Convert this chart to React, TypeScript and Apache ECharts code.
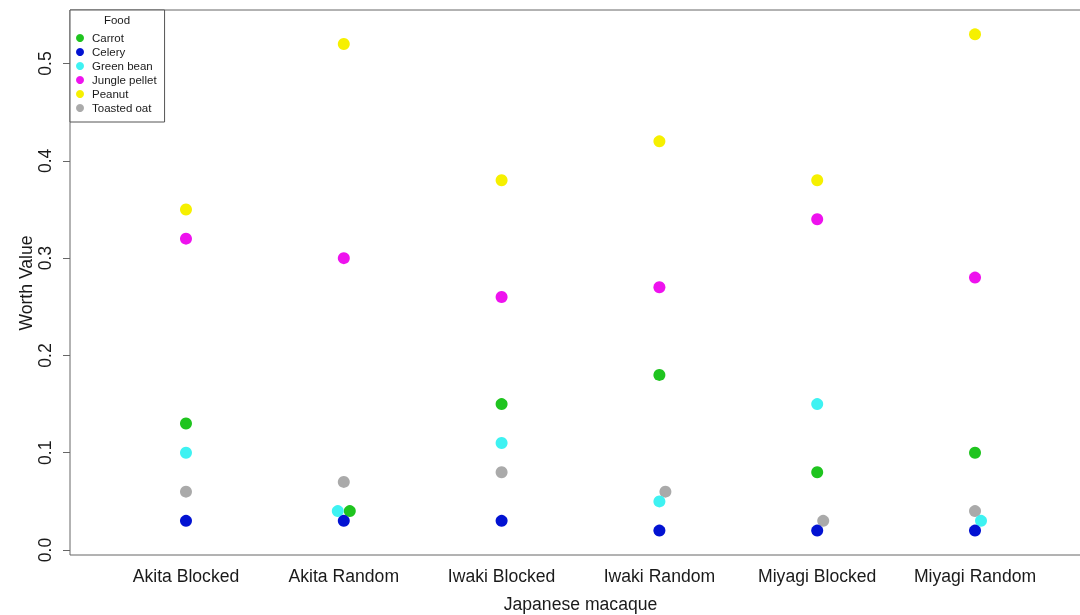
import React, { useEffect, useRef } from "react";
import * as echarts from "echarts";

const categories = ["Akita Blocked", "Akita Random", "Iwaki Blocked", "Iwaki Random", "Miyagi Blocked", "Miyagi Random"];
const foods = ["Carrot", "Celery", "Green bean", "Jungle pellet", "Peanut", "Toasted oat"];
const yTicks = [0, 0.1, 0.2, 0.3, 0.4, 0.5];

const carrot = [0.13, 0.04, 0.15, 0.18, 0.08, 0.10];
const celery = [0.03, 0.03, 0.03, 0.02, 0.02, 0.02];
const greenBean = [0.10, 0.04, 0.11, 0.05, 0.15, 0.03];
const junglePellet = [0.32, 0.30, 0.26, 0.27, 0.34, 0.28];
const peanut = [0.35, 0.52, 0.38, 0.42, 0.38, 0.53];
const toastedOat = [0.06, 0.07, 0.08, 0.06, 0.03, 0.04];

// horizontal jitter (pixels) applied to overlapping points
const carrotJitter = [0, 6, 0, 0, 0, 0];
const greenBeanJitter = [0, -6, 0, 0, 0, 6];
const toastedJitter = [0, 0, 0, 6, 6, 0];
const noJitter = [0, 0, 0, 0, 0, 0];

const colors: Record<string, string> = {
  "Carrot": "#1fc41f",
  "Celery": "#0212d2",
  "Green bean": "#3ef2f2",
  "Jungle pellet": "#ee12ee",
  "Peanut": "#f6f000",
  "Toasted oat": "#aaaaaa",
};

const FONT = "'Liberation Sans', Arial, Helvetica, sans-serif";
const BIG = 17.6;

export default function App() {
  const ref = useRef<HTMLDivElement>(null);
  useEffect(() => {
    if (!ref.current) return;
    const chart = echarts.init(ref.current, undefined, { renderer: "svg" });
    const mk = (name: string, vals: number[], jit: number[], z: number) => ({
      name,
      type: "scatter",
      symbol: "circle",
      symbolSize: 12,
      z,
      itemStyle: { color: colors[name], opacity: 1 },
      data: vals.map((v, i) => ({ value: [i + 1, v], symbolOffset: [jit[i], 0] })),
    });
    chart.setOption({
      animation: false,
      textStyle: { fontFamily: FONT },
      grid: {
        left: 70, top: 10, width: 1021, height: 545,
        outerBoundsMode: "none", containLabel: false,
        show: true, borderColor: "#666", borderWidth: 1, backgroundColor: "transparent",
      },
      xAxis: {
        type: "value",
        min: 0.265,
        max: 6.735,
        axisLine: { show: false },
        axisTick: { show: false },
        splitLine: { show: false },
        axisLabel: {
          customValues: [1, 2, 3, 4, 5, 6],
          formatter: (v: number) => categories[Math.round(v) - 1] ?? "",
          fontSize: BIG,
          color: "#1a1a1a",
          margin: 12,
          fontFamily: FONT,
        },
      },
      yAxis: {
        type: "value",
        min: -0.0051,
        max: 0.555,
        axisLine: { show: false },
        splitLine: { show: false },
        axisTick: { show: true, customValues: yTicks, length: 7, lineStyle: { color: "#666" } },
        axisLabel: {
          customValues: yTicks,
          formatter: (v: number) => v.toFixed(1),
          rotate: 90,
          fontSize: BIG,
          color: "#1a1a1a",
          margin: 16,
          fontFamily: FONT,
        },
      },
      legend: {
        data: foods,
        orient: "vertical",
        left: 70,
        top: 10,
        icon: "circle",
        itemWidth: 14,
        itemHeight: 8,
        itemGap: 0,
        padding: [21, 8, 7, 6],
        borderColor: "#555",
        borderWidth: 1,
        backgroundColor: "#fff",
        selectedMode: false,
        textStyle: { fontSize: 11.5, lineHeight: 14, color: "#1a1a1a", fontFamily: FONT },
      },
      graphic: [
        { type: "text", x: 117, y: 19.5, z: 100, style: { text: "Food", fill: "#1a1a1a", textAlign: "center", textVerticalAlign: "middle", font: `11.5px ${FONT}` } },
        { type: "text", x: 580.5, y: 604, style: { text: "Japanese macaque", fill: "#1a1a1a", textAlign: "center", textVerticalAlign: "middle", font: `${BIG}px ${FONT}` } },
        { type: "text", x: 26, y: 283, rotation: Math.PI / 2, style: { text: "Worth Value", fill: "#1a1a1a", textAlign: "center", textVerticalAlign: "middle", font: `${BIG}px ${FONT}` } },
      ],
      series: [
        mk("Toasted oat", toastedOat, toastedJitter, 2),
        mk("Peanut", peanut, noJitter, 2),
        mk("Jungle pellet", junglePellet, noJitter, 2),
        mk("Carrot", carrot, carrotJitter, 2),
        mk("Green bean", greenBean, greenBeanJitter, 2),
        mk("Celery", celery, noJitter, 2),
      ],
    });
    return () => chart.dispose();
  }, []);
  return <div ref={ref} style={{ position: "fixed", left: 0, top: 0, width: 1080, height: 615 }} />;
}
